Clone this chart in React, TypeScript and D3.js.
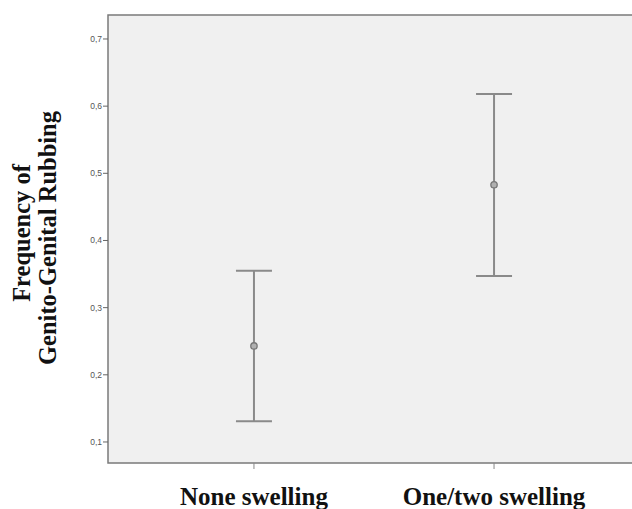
import React from "react";
import * as d3 from "d3";

const categories = ["None swelling", "One/two swelling"];
const means = [0.243, 0.483];
const lower = [0.131, 0.347];
const upper = [0.355, 0.618];
const yTicks = [0.1, 0.2, 0.3, 0.4, 0.5, 0.6, 0.7];
const yLabelLines = ["Frequency of", "Genito-Genital Rubbing"];

const W = 632;
const H = 509;
const plot = { left: 108, top: 15, right: 640, bottom: 463 };

export default function App() {
  const x = d3
    .scalePoint<string>()
    .domain(categories)
    .range([plot.left, plot.right])
    .padding(0.608);
  const y = d3.scaleLinear().domain([0.0687, 0.7357]).range([plot.bottom, plot.top]);
  const fmt = (v: number) => d3.format(".1f")(v).replace(".", ",");
  const grey = "#8a8a8a";
  const capHalf = 18;

  return (
    <svg
      width={W}
      height={H}
      style={{ position: "absolute", left: 0, top: 0, background: "#fff" }}
    >
      <rect
        x={plot.left}
        y={plot.top}
        width={plot.right - plot.left}
        height={plot.bottom - plot.top}
        fill="#f0f0f0"
        stroke="#7a7a7a"
        strokeWidth={1.5}
      />
      {yTicks.map((t) => (
        <g key={t}>
          <line x1={plot.left - 5} x2={plot.left} y1={y(t)} y2={y(t)} stroke="#666" strokeWidth={1} />
          <text
            x={plot.left - 6}
            y={y(t)}
            dy="0.35em"
            textAnchor="end"
            fontFamily="Liberation Sans, Arial, sans-serif"
            fontSize={8.5}
            fill="#555"
          >
            {fmt(t)}
          </text>
        </g>
      ))}
      {categories.map((c, i) => {
        const cx = x(c) as number;
        return (
          <g key={c}>
            <line x1={cx} x2={cx} y1={plot.bottom} y2={plot.bottom + 6} stroke="#888" strokeWidth={1} />
            <text
              x={cx}
              y={505}
              textAnchor="middle"
              fontFamily="Liberation Serif, Times New Roman, serif"
              fontWeight="bold"
              fontSize={25}
              fill="#111"
            >
              {c}
            </text>
            <line x1={cx} x2={cx} y1={y(lower[i])} y2={y(upper[i])} stroke={grey} strokeWidth={2} />
            <line x1={cx - capHalf} x2={cx + capHalf} y1={y(upper[i])} y2={y(upper[i])} stroke={grey} strokeWidth={2} />
            <line x1={cx - capHalf} x2={cx + capHalf} y1={y(lower[i])} y2={y(lower[i])} stroke={grey} strokeWidth={2} />
            <circle cx={cx} cy={y(means[i])} r={3.2} fill="#b0b0b0" stroke="#777" strokeWidth={1.3} />
          </g>
        );
      })}
      <text
        transform="translate(30,233) rotate(-90)"
        textAnchor="middle"
        fontFamily="Liberation Serif, Times New Roman, serif"
        fontWeight="bold"
        fontSize={24.5}
        fill="#111"
      >
        {yLabelLines[0]}
      </text>
      <text
        transform="translate(56,238) rotate(-90)"
        textAnchor="middle"
        fontFamily="Liberation Serif, Times New Roman, serif"
        fontWeight="bold"
        fontSize={24.5}
        fill="#111"
      >
        {yLabelLines[1]}
      </text>
    </svg>
  );
}
